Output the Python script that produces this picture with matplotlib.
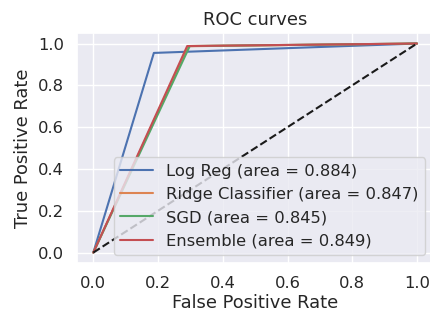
import matplotlib
matplotlib.use("Agg")
import matplotlib.pyplot as plt
import seaborn as sns

sns.set_theme(style="darkgrid", font_scale=1.07)

labels = ["Log Reg", "Ridge Classifier", "SGD", "Ensemble"]
aucs = [0.884, 0.847, 0.845, 0.849]
fprs = [[0.0, 0.187, 1.0], [0.0, 0.293, 1.0], [0.0, 0.298, 1.0], [0.0, 0.290, 1.0]]
tprs = [[0.0, 0.955, 1.0], [0.0, 0.987, 1.0], [0.0, 0.988, 1.0], [0.0, 0.988, 1.0]]

fig, ax = plt.subplots(figsize=(4.31, 3.12), dpi=100)
for lab, a, f, t in zip(labels, aucs, fprs, tprs):
    ax.plot(f, t, label=f"{lab} (area = {a:.3f})")
ax.plot([0, 1], [0, 1], "k--")
ax.set_xlabel("False Positive Rate", labelpad=2)
ax.set_ylabel("True Positive Rate")
ax.set_title("ROC curves")
ax.legend(loc="lower right")
fig.subplots_adjust(left=0.179, right=1.005, top=0.894, bottom=0.157)
fig.savefig("out.png", dpi=100)
